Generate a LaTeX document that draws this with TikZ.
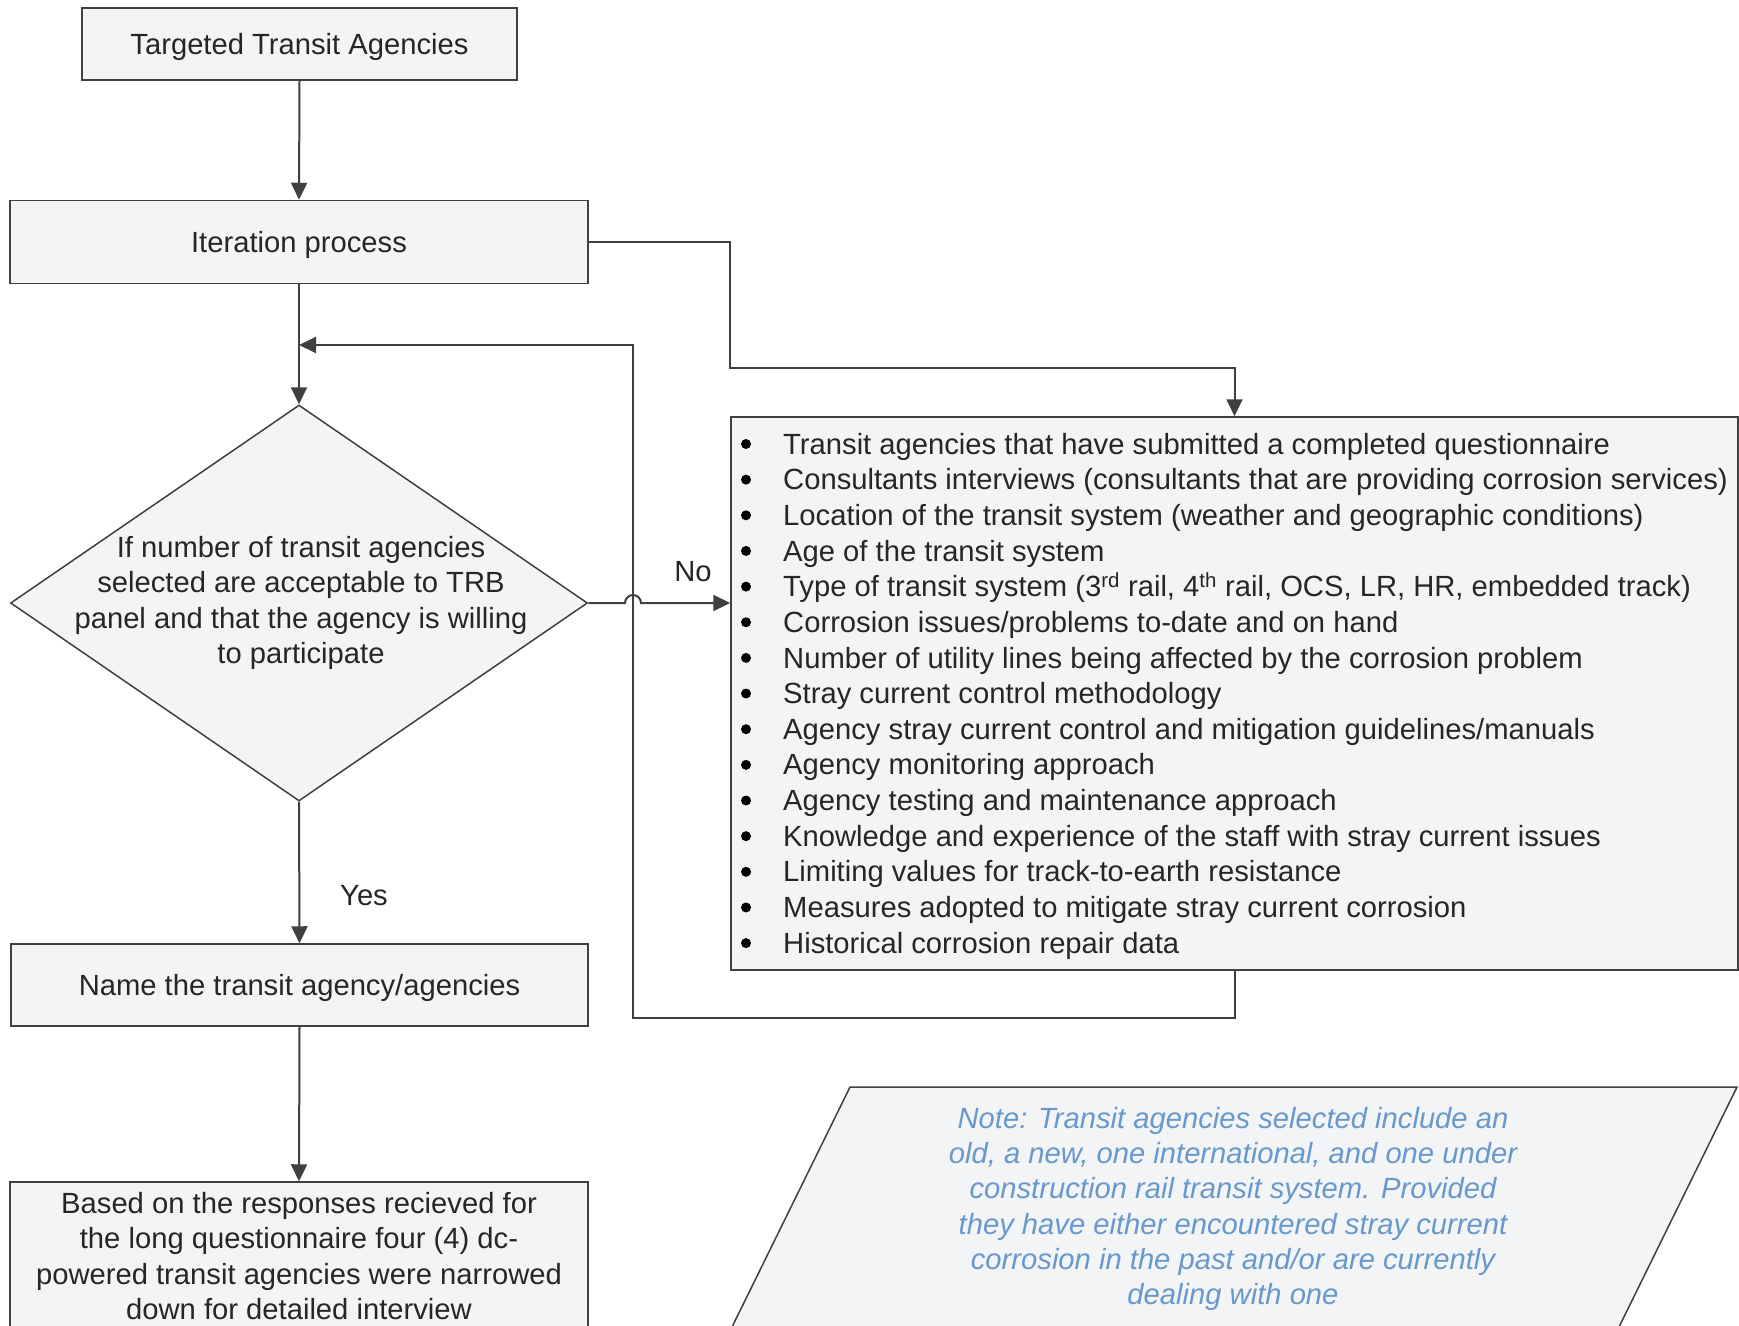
\documentclass[tikz,border=0pt]{standalone}
\usepackage{fontspec}
\setmainfont{Liberation Sans}
\usetikzlibrary{shapes.geometric,arrows.meta}
\definecolor{lc}{RGB}{64,64,64}
\definecolor{tc}{RGB}{38,38,38}
\definecolor{bf}{RGB}{243,244,246}
\definecolor{nc}{RGB}{104,152,204}
\tikzset{
  x=1pt, y=-1pt,
  every node/.style={font=\fontsize{29.2}{35.6}\selectfont, text=tc, inner sep=0pt},
  box/.style={draw=lc, fill=bf, line width=1.5pt, rectangle},
  conn/.style={draw=lc, line width=2pt},
  arr/.style={conn, -{Triangle[length=17pt,width=16pt]}},
  capline/.style={text height=21pt, text depth=0pt},
  bulletdot/.style={circle, fill=black, minimum size=10pt, inner sep=0pt}
}
\begin{document}
\begin{tikzpicture}
\clip (0,0) rectangle (1739,1325);
\fill[white] (0,0) rectangle (1739,1325);

% boxes
\node[box, capline, minimum width=435pt, minimum height=72pt] (tta) at (299.5,44) {Targeted Transit Agencies};
\node[box, capline, minimum width=578pt, minimum height=83pt] (iter) at (299,242) {Iteration process};
\node[diamond, draw=lc, fill=bf, line width=1.5pt, minimum width=577pt, minimum height=396pt] (dec) at (299,603) {};
\node[align=center] (dectext) at (301,603) {If number of transit agencies\\selected are acceptable to TRB\\panel and that the agency is willing\\to participate};
\node[box, capline, minimum width=577pt, minimum height=82pt] (name) at (299.5,985) {Name the transit agency/agencies};
\node[box, minimum width=578pt, minimum height=150pt] (based) at (299,1257) {};
\node[align=center] (basedtext) at (299,1256) {Based on the responses recieved for\\the long questionnaire four (4) dc-\\powered transit agencies were narrowed\\down for detailed interview};

% list box
\node[box, minimum width=1007pt, minimum height=553pt] (list) at (1234.5,693.5) {};
\foreach \t [count=\i from 0] in {
  {Transit agencies that have submitted a completed questionnaire},
  {Consultants interviews (consultants that are providing corrosion services)},
  {Location of the transit system (weather and geographic conditions)},
  {Age of the transit system},
  {Type of transit system (3\textsuperscript{rd} rail, 4\textsuperscript{th} rail, OCS, LR, HR, embedded track)},
  {Corrosion issues/problems to-date and on hand},
  {Number of utility lines being affected by the corrosion problem},
  {Stray current control methodology},
  {Agency stray current control and mitigation guidelines/manuals},
  {Agency monitoring approach},
  {Agency testing and maintenance approach},
  {Knowledge and experience of the staff with stray current issues},
  {Limiting values for track-to-earth resistance},
  {Measures adopted to mitigate stray current corrosion},
  {Historical corrosion repair data}}
{
  \node[bulletdot] (dot\i) at (746, 444+35.65*\i) {};
  \node[capline, anchor=west] (item\i) at (783, 443.6+35.65*\i) {\t};
}

% note parallelogram
\draw[draw=lc, fill=bf, line width=1.5pt] (850,1087) -- (1737,1087) -- (1618.5,1328) -- (731.5,1328) -- cycle;
\node[align=center, text=nc, font=\fontsize{29.2}{35.2}\itshape] (note) at (1233,1209) {Note: Transit agencies selected include an\\old, a new, one international, and one under\\construction rail transit system. Provided\\they have either encountered stray current\\corrosion in the past and/or are currently\\dealing with one};

% connectors
\coordinate (c1) at (730,242);
\coordinate (c2) at (730,368);
\coordinate (c3) at (1234.5,368);
\coordinate (l1) at (1234.5,1018);
\coordinate (l2) at (633,1018);
\coordinate (l3) at (633,345);
\coordinate (l4) at (299,345);
\coordinate (h1) at (625,603);
\coordinate (lin) at (list.west |- dec.east);

\draw[arr] (tta.south) -- (iter.north);
\draw[arr] (iter.south) -- (dec.north);
\draw[arr] (iter.east |- c1) -- (c1) -- (c2) -- (c3) -- (list.north);
\draw[arr] (list.south) -- (l1) -- (l2) -- (l3) -- (l4);
\draw[arr] (dec.east) -- (h1) arc[start angle=180, end angle=0, radius=8pt] -- (lin);
\draw[arr] (dec.south) -- (name.north);
\draw[arr] (name.south) -- (based.north);

\node (no) at (693,572) {No};
\node (yes) at (364,896) {Yes};
\end{tikzpicture}
\end{document}
